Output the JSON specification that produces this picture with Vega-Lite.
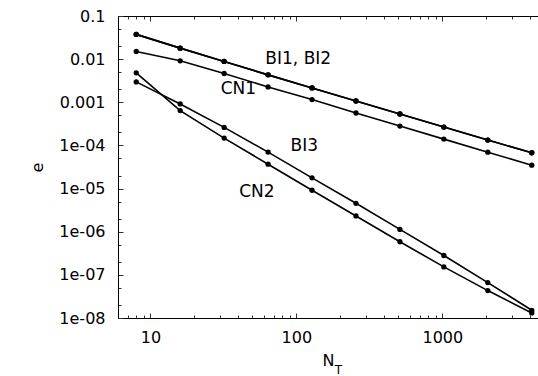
{
  "$schema": "https://vega.github.io/schema/vega-lite/v6.json",
  "width": 420,
  "height": 302,
  "autosize": {"type": "none"},
  "padding": {"left": 118, "top": 16, "right": 0, "bottom": 58},
  "background": "white",
  "config": {
    "view": {"stroke": null},
    "axis": {
      "labelFont": "DejaVu Sans", "labelFontSize": 16, "labelColor": "black",
      "titleFont": "DejaVu Sans", "titleFontSize": 16, "titleFontWeight": "normal", "titleColor": "black",
      "domainColor": "black", "domainWidth": 1, "tickColor": "#333", "tickWidth": 1,
      "grid": false, "labelOverlap": false, "labelFlush": false, "labelBound": false
    }
  },
  "datasets": {
    "err": [
      {"N": 8, "e": 0.0375, "s": "BI1"}, {"N": 16, "e": 0.018, "s": "BI1"}, {"N": 32, "e": 0.00883, "s": "BI1"}, {"N": 64, "e": 0.00432, "s": "BI1"}, {"N": 128, "e": 0.00215, "s": "BI1"}, {"N": 256, "e": 0.00107, "s": "BI1"}, {"N": 512, "e": 0.000535, "s": "BI1"}, {"N": 1024, "e": 0.000267, "s": "BI1"}, {"N": 2048, "e": 0.000133, "s": "BI1"}, {"N": 4096, "e": 0.0000676, "s": "BI1"},
      {"N": 8, "e": 0.0375, "s": "BI2"}, {"N": 16, "e": 0.018, "s": "BI2"}, {"N": 32, "e": 0.00883, "s": "BI2"}, {"N": 64, "e": 0.00432, "s": "BI2"}, {"N": 128, "e": 0.00215, "s": "BI2"}, {"N": 256, "e": 0.00107, "s": "BI2"}, {"N": 512, "e": 0.000535, "s": "BI2"}, {"N": 1024, "e": 0.000267, "s": "BI2"}, {"N": 2048, "e": 0.000133, "s": "BI2"}, {"N": 4096, "e": 0.0000676, "s": "BI2"},
      {"N": 8, "e": 0.0151, "s": "CN1"}, {"N": 16, "e": 0.00914, "s": "CN1"}, {"N": 32, "e": 0.00465, "s": "CN1"}, {"N": 64, "e": 0.00227, "s": "CN1"}, {"N": 128, "e": 0.001156, "s": "CN1"}, {"N": 256, "e": 0.000564, "s": "CN1"}, {"N": 512, "e": 0.000281, "s": "CN1"}, {"N": 1024, "e": 0.00014, "s": "CN1"}, {"N": 2048, "e": 0.0000698, "s": "CN1"}, {"N": 4096, "e": 0.0000348, "s": "CN1"},
      {"N": 8, "e": 0.00297, "s": "BI3"}, {"N": 16, "e": 0.000914, "s": "BI3"}, {"N": 32, "e": 0.000262, "s": "BI3"}, {"N": 64, "e": 0.00007, "s": "BI3"}, {"N": 128, "e": 0.0000177, "s": "BI3"}, {"N": 256, "e": 0.00000456, "s": "BI3"}, {"N": 512, "e": 0.00000113, "s": "BI3"}, {"N": 1024, "e": 2.81e-7, "s": "BI3"}, {"N": 2048, "e": 6.62e-8, "s": "BI3"}, {"N": 4096, "e": 1.51e-8, "s": "BI3"},
      {"N": 8, "e": 0.00481, "s": "CN2"}, {"N": 16, "e": 0.000641, "s": "CN2"}, {"N": 32, "e": 0.000148, "s": "CN2"}, {"N": 64, "e": 0.0000367, "s": "CN2"}, {"N": 128, "e": 0.00000914, "s": "CN2"}, {"N": 256, "e": 0.00000232, "s": "CN2"}, {"N": 512, "e": 5.85e-7, "s": "CN2"}, {"N": 1024, "e": 1.53e-7, "s": "CN2"}, {"N": 2048, "e": 4.32e-8, "s": "CN2"}, {"N": 4096, "e": 1.31e-8, "s": "CN2"}
    ],
    "labels": [
      {"N": 103, "e": 0.01, "text": "BI1, BI2", "size": 17, "baseline": "middle"},
      {"N": 40.1, "e": 0.002, "text": "CN1", "size": 17, "baseline": "middle"},
      {"N": 113.4, "e": 0.000095, "text": "BI3", "size": 17, "baseline": "middle"},
      {"N": 53.6, "e": 0.0000085, "text": "CN2", "size": 17, "baseline": "middle"},
      {"N": 194, "e": 6.18e-10, "text": "T", "size": 12, "baseline": "alphabetic"}
    ]
  },
  "resolve": {"axis": {"x": "independent"}},
  "layer": [
    {
      "data": {"name": "err"},
      "mark": {"type": "line", "color": "black", "clip": false, "point": {"filled": true, "size": 28, "color": "black"}},
      "encoding": {
        "x": {
          "field": "N", "type": "quantitative",
          "scale": {"type": "log", "domain": [6, 4520], "nice": false},
          "axis": {
            "orient": "bottom", "title": "N", "titlePadding": 5,
            "values": [6, 7, 8, 9, 10, 20, 30, 40, 50, 60, 70, 80, 90, 100, 200, 300, 400, 500, 600, 700, 800, 900, 1000, 2000, 3000, 4000],
            "tickSize": {"condition": {"test": "abs(log(datum.value)/LN10 - round(log(datum.value)/LN10)) < 1e-6", "value": -5}, "value": -3},
            "labelExpr": "abs(log(datum.value)/LN10 - round(log(datum.value)/LN10)) < 1e-6 ? format(datum.value, 'd') : ''",
            "labelPadding": 16
          }
        },
        "y": {
          "field": "e", "type": "quantitative",
          "scale": {"type": "log", "domain": [1e-8, 0.1], "nice": false},
          "axis": {
            "title": "e", "titlePadding": 13,
            "values": [1e-8, 2e-8, 5e-8, 1e-7, 2e-7, 5e-7, 1e-6, 2e-6, 5e-6, 1e-5, 2e-5, 5e-5, 1e-4, 2e-4, 5e-4, 0.001, 0.002, 0.005, 0.01, 0.02, 0.05, 0.1],
            "tickSize": {"condition": {"test": "abs(log(datum.value)/LN10 - round(log(datum.value)/LN10)) < 1e-6", "value": -5}, "value": -3},
            "labelExpr": "abs(log(datum.value)/LN10 - round(log(datum.value)/LN10)) < 1e-6 ? (datum.value >= 0.001 ? format(datum.value, '~g') : '1e-0' + format(-round(log(datum.value)/LN10), 'd')) : ''",
            "labelPadding": 18
          }
        },
        "detail": {"field": "s"},
        "strokeWidth": {"field": "s", "type": "nominal", "scale": {"domain": ["BI1", "BI2", "CN1", "BI3", "CN2"], "range": [1.6, 1.6, 1, 1, 1]}, "legend": null}
      }
    },
    {
      "data": {"name": "labels"},
      "mark": {"type": "text", "align": "center", "font": "DejaVu Sans", "color": "black"},
      "encoding": {
        "x": {
          "field": "N", "type": "quantitative",
          "axis": {
            "orient": "top", "title": null, "labels": false,
            "values": [6, 7, 8, 9, 10, 20, 30, 40, 50, 60, 70, 80, 90, 100, 200, 300, 400, 500, 600, 700, 800, 900, 1000, 2000, 3000, 4000],
            "tickSize": {"condition": {"test": "abs(log(datum.value)/LN10 - round(log(datum.value)/LN10)) < 1e-6", "value": -5}, "value": -3}
          }
        },
        "y": {"field": "e", "type": "quantitative"},
        "text": {"field": "text"},
        "size": {"field": "size", "type": "quantitative", "scale": null},
        "baseline": {"field": "baseline"}
      }
    }
  ]
}
